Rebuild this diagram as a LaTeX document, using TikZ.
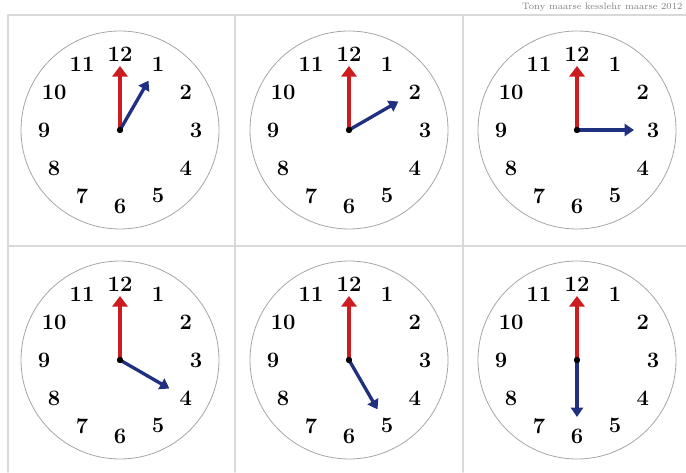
\documentclass[tikz,border=0pt]{standalone}
\usepackage{tikz}
\usetikzlibrary{arrows.meta,calc}
\usepackage{xcolor}
\definecolor{handred}{RGB}{205,28,32}
\definecolor{handblue}{RGB}{32,48,128}

\begin{document}
\begin{tikzpicture}[x=0.75pt,y=0.75pt,line cap=round,
  face/.style={draw=gray!70,line width=0.6pt},
  hourhand/.style={handblue,line width=2.5pt,-{Triangle[length=7pt,width=9pt]}},
  minutehand/.style={handred,line width=3.5pt,-{Triangle[length=8pt,width=11.5pt]}},
  num/.style={font=\fontsize{16.5}{16.5}\selectfont\bfseries,inner sep=0pt}]
\useasboundingbox (0,0) rectangle (686,472);
\draw[gray!30,line width=1.4pt] (8,0) -- (8,457) -- (686,457);
\draw[gray!30,line width=1.4pt] (8,226) -- (686,226);
\draw[gray!30,line width=1.4pt] (235,0) -- (235,457);
\draw[gray!30,line width=1.4pt] (463,0) -- (463,457);
\node[anchor=north east,gray,font=\scriptsize,inner sep=1pt] (credit) at (684,471) {Tony maarse kesslehr maarse 2012};
% one clock per cell: centre x / centre y / hour
\foreach \cx/\cy/\h [count=\i] in {120/342/1,349/342/2,577/342/3,120/112/4,349/112/5,577/112/6}{
  \coordinate (c\i) at (\cx,\cy);
  \draw[face] (c\i) circle (74.25pt);
  \foreach \n in {1,...,12}
    \node[num] (n\i-\n) at ($(c\i)+({90-30*\n}:76)$) {\n};
  \coordinate (m\i) at ($(c\i)+(0,64)$);
  \coordinate (h\i) at ($(c\i)+({90-30*\h}:57)$);
  \draw[minutehand] (c\i) -- (m\i);
  \draw[hourhand] (c\i) -- (h\i);
  \fill (c\i) circle (2.4pt);
}
\end{tikzpicture}
\end{document}
